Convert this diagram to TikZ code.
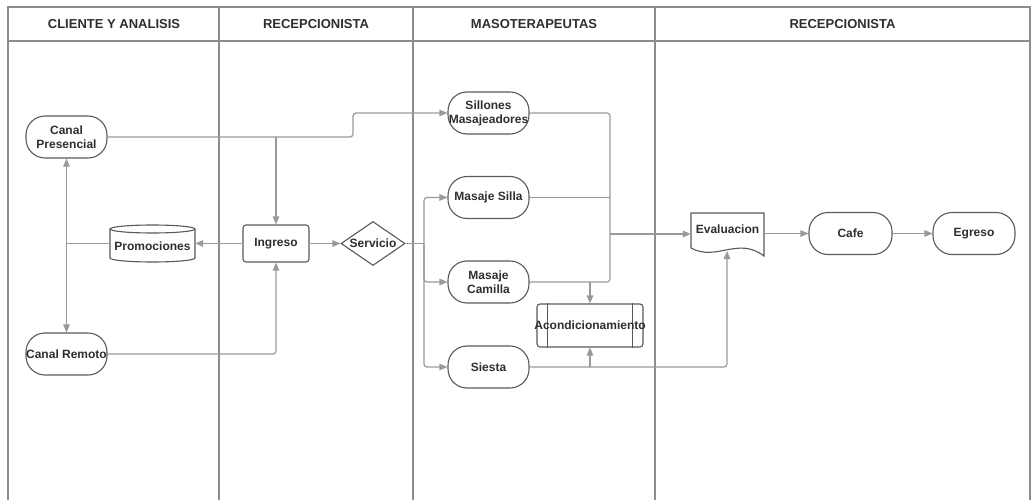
\documentclass[tikz,border=0pt]{standalone}
\usepackage{fontspec}
\setmainfont{Liberation Sans}
\usetikzlibrary{arrows.meta,shapes.geometric}
\definecolor{lanecol}{gray}{0.55}
\definecolor{edgecol}{gray}{0.35}
\definecolor{flowcol}{gray}{0.6}
\definecolor{txtcol}{gray}{0.18}
\tikzset{
  lane/.style={draw=lanecol,line width=1.2pt},
  head/.style={font=\bfseries\fontsize{13}{15}\selectfont,text=txtcol},
  base/.style={font=\bfseries\fontsize{12}{14}\selectfont,text=txtcol,inner sep=0pt,align=center},
  term/.style={base,draw=edgecol,line width=1.1pt,rectangle,rounded corners=19pt,minimum width=81pt,minimum height=42pt},
  proc/.style={base,draw=edgecol,line width=1.1pt,rectangle,rounded corners=3pt,minimum width=66pt,minimum height=37pt},
  decide/.style={base,draw=edgecol,line width=1.1pt,diamond,aspect=1.45,minimum width=64pt,minimum height=44pt,fill=white},
  plain/.style={base,draw=none},
  outline/.style={draw=edgecol,line width=1.1pt},
  link/.style={draw=flowcol,line width=1.2pt,rounded corners=3pt},
  flow/.style={link,-{Triangle[length=8pt,width=6.5pt]}},
}
\begin{document}
\begin{tikzpicture}[x=1pt,y=1pt]
\useasboundingbox (0,0) rectangle (1031,-500);

% swimlane frame and headers
\draw[lane] (8,-500) -- (8,-7) -- (1030,-7) -- (1030,-500);
\draw[lane] (8,-41) -- (1030,-41);
\foreach \xl in {219,413,655} \draw[lane] (\xl,-7) -- (\xl,-500);
\node[head] (h1) at (114,-24) {CLIENTE Y ANALISIS};
\node[head] (h2) at (316,-24) {RECEPCIONISTA};
\node[head] (h3) at (534,-24) {MASOTERAPEUTAS};
\node[head] (h4) at (842.5,-24) {RECEPCIONISTA};

% client side
\node[term] (cp) at (66.5,-137) {Canal\\Presencial};
\node[term] (cr) at (66.5,-354) {Canal Remoto};
\node[plain,minimum width=85pt,minimum height=37pt] (promo) at (152.5,-243.5) {};
\draw[outline,fill=white] (110,-229) -- (110,-258)
  arc[start angle=180,end angle=360,x radius=42.5,y radius=4] -- (195,-229)
  arc[start angle=0,end angle=180,x radius=42.5,y radius=4] -- cycle;
\draw[outline] (110,-229) arc[start angle=180,end angle=360,x radius=42.5,y radius=4];
\node[plain] at (152.5,-246) {Promociones};

% reception
\node[proc] (ing) at (276,-243.5) {Ingreso};
\node[decide] (serv) at (373,-243.5) {Servicio};

% therapists
\node[term] (sill) at (488.5,-113) {Sillones\\Masajeadores};
\node[term] (msilla) at (488.5,-197.5) {Masaje Silla};
\node[term] (mcam) at (488.5,-282) {Masaje\\Camilla};
\node[term] (siesta) at (488.5,-367) {Siesta};
\node[proc,minimum width=106pt,minimum height=43pt] (acond) at (590,-325.5) {};
\draw[outline] ([xshift=11pt]acond.north west) -- ([xshift=11pt]acond.south west);
\draw[outline] ([xshift=-11pt]acond.north east) -- ([xshift=-11pt]acond.south east);
\node[plain] at (590,-325.5) {Acondicionamiento};

% evaluation and exit
\node[plain,minimum width=73pt,minimum height=42pt] (eval) at (727.5,-234) {};
\draw[outline,fill=white] (691,-248) -- (691,-213) -- (764,-213) -- (764,-256)
  .. controls (738,-236) and (716,-262) .. (691,-248);
\node[plain] at (727.5,-229) {Evaluacion};
\coordinate (evb) at (727,-251);
\node[term,minimum width=83pt] (cafe) at (850.5,-233.5) {Cafe};
\node[term,minimum width=82pt] (egr) at (974,-233.5) {Egreso};

% connectors: client and reception
\coordinate (step) at (353,-137);
\draw[flow] (cp.east) -- (step) |- (sill.west);
\draw[flow] (ing.north |- cp.east) -- (ing.north);
\draw[flow] (cr.east) -| (ing.south);
\draw[flow] (ing.west) -- (promo.east);
\coordinate (jp) at (cp.south |- promo.west);
\draw[link] (promo.west) -- (jp);
\draw[flow,rounded corners=0pt] (jp) -- (cp.south);
\draw[flow,rounded corners=0pt] (jp) -- (cr.north);
\draw[flow] (ing.east) -- (serv.west);

% connectors: service split
\coordinate (sp) at (424,-243.5);
\draw[link] (serv.east) -- (sp);
\draw[flow] (sp) |- (msilla.west);
\draw[flow] (sp) |- (mcam.west);
\draw[flow] (sp) |- (siesta.west);

% connectors: therapies to evaluation
\coordinate (mg) at (610,-234);
\draw[link] (sill.east) -| (mcam.east -| mg) -- (mcam.east);
\draw[link] (msilla.east) -- (msilla.east -| mg);
\draw[flow] (mg) -- (eval.west |- mg);
\draw[flow] (acond.north |- mcam.east) -- (acond.north);
\draw[flow] (siesta.east) -| (evb);
\draw[flow] (acond.south |- siesta.east) -- (acond.south);
\draw[flow] (764,-233.5) -- (cafe.west);
\draw[flow] (cafe.east) -- (egr.west);
\end{tikzpicture}
\end{document}
